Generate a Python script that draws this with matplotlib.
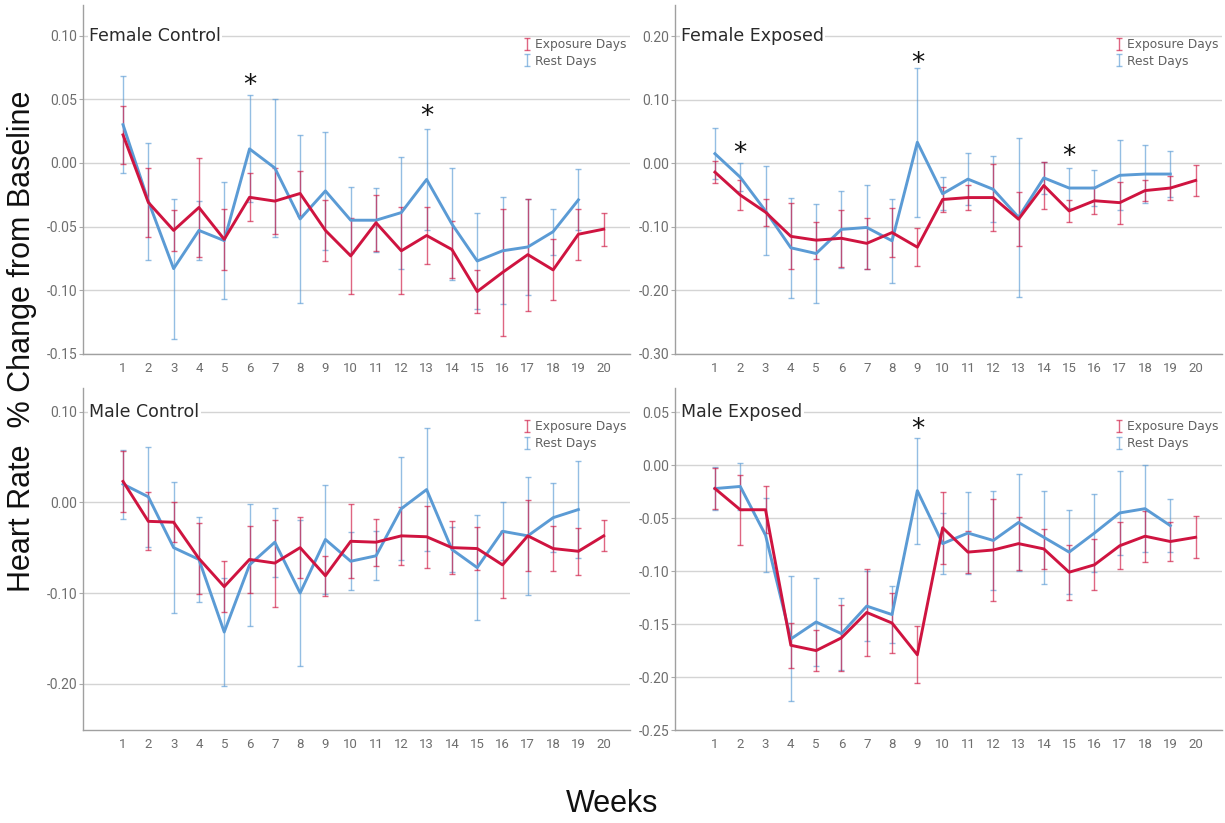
import numpy as np
import matplotlib
matplotlib.use("Agg")
import matplotlib.pyplot as plt

weeks = np.arange(1, 21)
weeks_rest = np.arange(1, 20)

# Female Control
fc_exp = [0.022, -0.031, -0.053, -0.035, -0.060, -0.027, -0.030, -0.024, -0.053, -0.073,
          -0.047, -0.069, -0.057, -0.068, -0.101, -0.086, -0.072, -0.084, -0.056, -0.052]
fc_exp_err = [0.023, 0.027, 0.016, 0.039, 0.024, 0.019, 0.026, 0.018, 0.024, 0.030,
              0.022, 0.034, 0.022, 0.022, 0.017, 0.050, 0.044, 0.024, 0.020, 0.013]
fc_rest = [0.030, -0.030, -0.083, -0.053, -0.061, 0.011, -0.004, -0.044, -0.022, -0.045,
           -0.045, -0.039, -0.013, -0.048, -0.077, -0.069, -0.066, -0.054, -0.029]
fc_rest_err = [0.038, 0.046, 0.055, 0.023, 0.046, 0.042, 0.054, 0.066, 0.046, 0.026,
               0.025, 0.044, 0.040, 0.044, 0.038, 0.042, 0.038, 0.018, 0.024]

# Female Exposed
fe_exp = [-0.014, -0.050, -0.077, -0.115, -0.121, -0.118, -0.126, -0.109, -0.132, -0.057,
          -0.054, -0.054, -0.088, -0.035, -0.075, -0.059, -0.062, -0.043, -0.039, -0.027]
fe_exp_err = [0.017, 0.023, 0.021, 0.052, 0.029, 0.045, 0.040, 0.038, 0.030, 0.020,
              0.020, 0.053, 0.042, 0.037, 0.017, 0.021, 0.033, 0.017, 0.019, 0.024]
fe_rest = [0.015, -0.022, -0.075, -0.133, -0.142, -0.104, -0.101, -0.122, 0.033, -0.048,
           -0.025, -0.041, -0.085, -0.023, -0.039, -0.039, -0.019, -0.017, -0.017]
fe_rest_err = [0.040, 0.022, 0.070, 0.079, 0.078, 0.060, 0.066, 0.066, 0.117, 0.026,
               0.041, 0.052, 0.125, 0.025, 0.031, 0.029, 0.055, 0.045, 0.036]

# Male Control
mc_exp = [0.023, -0.021, -0.022, -0.062, -0.093, -0.063, -0.067, -0.050, -0.081, -0.043,
          -0.044, -0.037, -0.038, -0.050, -0.051, -0.069, -0.037, -0.051, -0.054, -0.037]
mc_exp_err = [0.034, 0.032, 0.022, 0.039, 0.028, 0.037, 0.048, 0.034, 0.022, 0.041,
              0.026, 0.032, 0.034, 0.029, 0.024, 0.037, 0.039, 0.025, 0.026, 0.017]
mc_rest = [0.020, 0.006, -0.050, -0.063, -0.143, -0.069, -0.044, -0.100, -0.041, -0.065,
           -0.059, -0.007, 0.014, -0.052, -0.072, -0.032, -0.037, -0.017, -0.008]
mc_rest_err = [0.038, 0.055, 0.072, 0.047, 0.060, 0.067, 0.038, 0.080, 0.060, 0.032,
               0.027, 0.057, 0.068, 0.025, 0.058, 0.032, 0.065, 0.038, 0.053]

# Male Exposed
me_exp = [-0.022, -0.042, -0.042, -0.170, -0.175, -0.163, -0.139, -0.149, -0.179, -0.059,
          -0.082, -0.080, -0.074, -0.079, -0.101, -0.094, -0.076, -0.067, -0.072, -0.068]
me_exp_err = [0.019, 0.033, 0.022, 0.021, 0.019, 0.031, 0.041, 0.028, 0.027, 0.034,
              0.020, 0.048, 0.025, 0.019, 0.026, 0.024, 0.022, 0.024, 0.018, 0.020]
me_rest = [-0.022, -0.020, -0.066, -0.164, -0.148, -0.159, -0.133, -0.141, -0.024, -0.074,
           -0.064, -0.071, -0.054, -0.068, -0.082, -0.064, -0.045, -0.041, -0.057]
me_rest_err = [0.020, 0.022, 0.035, 0.059, 0.042, 0.034, 0.033, 0.027, 0.050, 0.029,
               0.039, 0.047, 0.046, 0.044, 0.040, 0.037, 0.040, 0.041, 0.025]

# significance markers: (week, height)
fc_stars = [(6, 0.060), (13, 0.036)]
fe_stars = [(2, 0.014), (9, 0.156), (15, 0.010)]
mc_stars = []
me_stars = [(9, 0.033)]

RED = '#cf1440'
BLUE = '#5b9bd5'
GRID = '#d4d4d4'
TICK = '#6e6e6e'

panels = [
    dict(title='Female Control', exp=fc_exp, exp_err=fc_exp_err, rest=fc_rest, rest_err=fc_rest_err,
         stars=fc_stars, rect=[0.0678, 0.5699, 0.4465, 0.4241], ylim=(-0.150, 0.124),
         yticks=[0.10, 0.05, 0.00, -0.05, -0.10, -0.15]),
    dict(title='Female Exposed', exp=fe_exp, exp_err=fe_exp_err, rest=fe_rest, rest_err=fe_rest_err,
         stars=fe_stars, rect=[0.5510, 0.5699, 0.4465, 0.4241], ylim=(-0.300, 0.249),
         yticks=[0.20, 0.10, 0.00, -0.10, -0.20, -0.30]),
    dict(title='Male Control', exp=mc_exp, exp_err=mc_exp_err, rest=mc_rest, rest_err=mc_rest_err,
         stars=mc_stars, rect=[0.0678, 0.1130, 0.4465, 0.4156], ylim=(-0.251, 0.126),
         yticks=[0.10, 0.00, -0.10, -0.20]),
    dict(title='Male Exposed', exp=me_exp, exp_err=me_exp_err, rest=me_rest, rest_err=me_rest_err,
         stars=me_stars, rect=[0.5510, 0.1130, 0.4465, 0.4156], ylim=(-0.250, 0.073),
         yticks=[0.05, 0.00, -0.05, -0.10, -0.15, -0.20, -0.25]),
]

fig = plt.figure(figsize=(12.25, 8.23), dpi=100)

for p in panels:
    ax = fig.add_axes(p['rect'])
    ax.set_xlim(-0.58, 21.04)
    ax.set_ylim(*p['ylim'])

    # error bars first so the mean lines sit on top
    eb_rest = ax.errorbar(weeks_rest, p['rest'], yerr=p['rest_err'], fmt='none',
                          ecolor=BLUE, elinewidth=1.0, capsize=2, capthick=1.0, alpha=0.65,
                          label='Rest Days', zorder=2)
    eb_exp = ax.errorbar(weeks, p['exp'], yerr=p['exp_err'], fmt='none',
                         ecolor=RED, elinewidth=1.0, capsize=2, capthick=1.0, alpha=0.65,
                         label='Exposure Days', zorder=2)
    ax.plot(weeks_rest, p['rest'], color=BLUE, lw=2.1, zorder=3)
    ax.plot(weeks, p['exp'], color=RED, lw=2.1, zorder=4)

    for wk, yv in p['stars']:
        ax.text(wk, yv, '*', ha='center', va='center', fontsize=19, color='#111111', zorder=5)

    ax.set_xticks(weeks)
    ax.set_xticklabels([str(w) for w in weeks], fontsize=9.5, color=TICK, family='Roboto')
    ax.set_yticks(p['yticks'])
    ax.set_yticklabels(['%.2f' % v for v in p['yticks']], fontsize=10, color=TICK, family='Roboto')
    ax.tick_params(axis='x', length=0, pad=6)
    ax.tick_params(axis='y', length=3, width=0.8, color='#aaaaaa', pad=1)

    ax.grid(axis='y', color=GRID, lw=1.0, zorder=0)
    ax.set_axisbelow(True)
    for side in ('top', 'right'):
        ax.spines[side].set_visible(False)
    for side in ('left', 'bottom'):
        ax.spines[side].set_color('#a0a0a0')
        ax.spines[side].set_linewidth(1.0)

    ax.text(0.011, p['yticks'][0], p['title'], transform=ax.get_yaxis_transform(),
            ha='left', va='center', fontsize=12.5, color='#2a2a2a', family='DejaVu Sans',
            bbox=dict(facecolor='white', edgecolor='none', pad=1.0), zorder=6)

    leg = ax.legend(handles=[eb_exp, eb_rest], loc='upper right', bbox_to_anchor=(1.01, 0.93),
                    frameon=False, fontsize=8.8, handlelength=0.5, handletextpad=0.4,
                    labelspacing=0.3, borderpad=0.2)
    for t in leg.get_texts():
        t.set_color('#606060')

fig.text(0.018, 0.585, 'Heart Rate  % Change from Baseline', rotation=90, ha='center', va='center',
         fontsize=22, family='Liberation Sans', color='#111111')
fig.text(0.5, 0.023, 'Weeks', ha='center', va='center', fontsize=22,
         family='Liberation Sans', color='#111111')

fig.savefig('out.png', dpi=100)
